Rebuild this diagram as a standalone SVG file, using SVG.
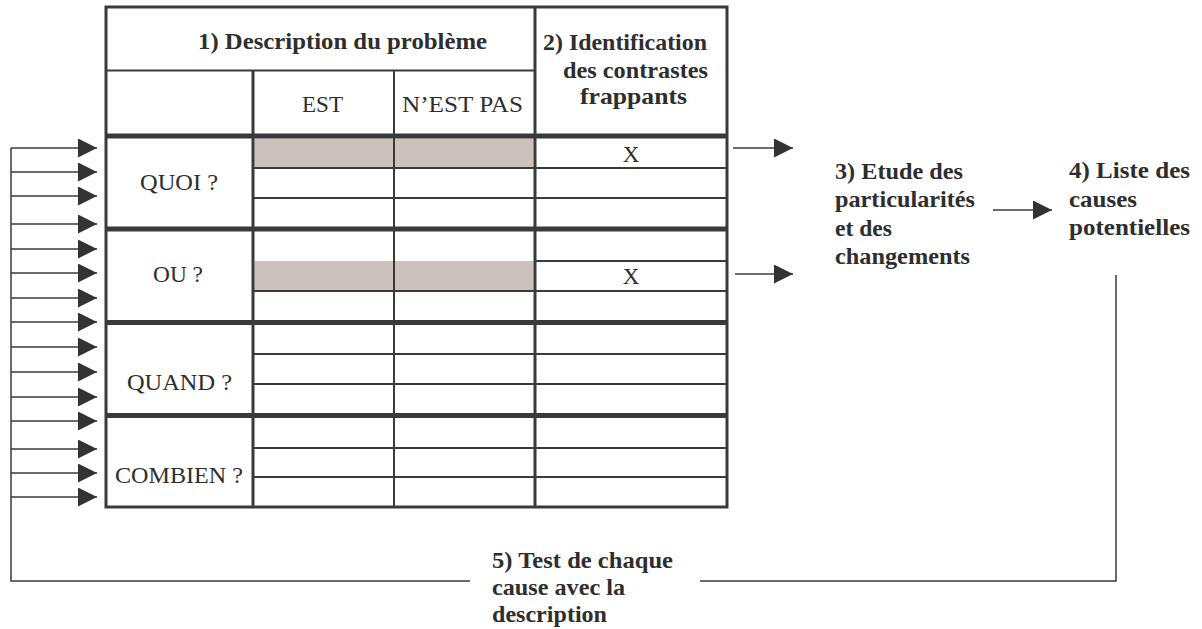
<svg xmlns="http://www.w3.org/2000/svg" width="1202" height="629" viewBox="0 0 1202 629">
<style>
.t{font-family:"Liberation Serif","Times New Roman",serif;font-size:23px;fill:#2e2e2e}
.b{font-weight:bold}
.ln{stroke:#3a3a3a;fill:none}
.thin{stroke-width:2}
.mid{stroke-width:3}
.thick{stroke-width:5}
.shade{fill:#cbc2be}
.conn{stroke:#3a3a3a;stroke-width:1.5;fill:none}
</style>
<defs>
<marker id="ah" markerUnits="userSpaceOnUse" markerWidth="20" markerHeight="20" refX="19" refY="9.5" orient="auto">
<path d="M0,0 L19,9.5 L0,19 z" fill="#333"/>
</marker>
</defs>
<rect width="1202" height="629" fill="#fff"/>

<g id="table">
<rect class="shade" x="254.5" y="138.5" width="279" height="28.5"/>
<rect class="shade" x="254.5" y="261" width="279" height="29"/>
<rect class="ln mid" x="106" y="7" width="621" height="500"/>
<line class="ln thin" x1="106" y1="70.5" x2="535" y2="70.5"/>
<line class="ln mid" x1="253" y1="70.5" x2="253" y2="507"/>
<line class="ln thin" x1="394" y1="70.5" x2="394" y2="507"/>
<line class="ln mid" x1="535" y1="7" x2="535" y2="507"/>
<line class="ln thick" x1="106" y1="136" x2="727" y2="136"/>
<line class="ln thick" x1="106" y1="229" x2="727" y2="229"/>
<line class="ln thick" x1="106" y1="322.5" x2="727" y2="322.5"/>
<line class="ln thick" x1="106" y1="415.5" x2="727" y2="415.5"/>
<line class="ln thin" x1="253" y1="168" x2="727" y2="168"/>
<line class="ln thin" x1="253" y1="198" x2="727" y2="198"/>
<line class="ln thin" x1="535" y1="261" x2="727" y2="261"/>
<line class="ln thin" x1="253" y1="291" x2="727" y2="291"/>
<line class="ln thin" x1="253" y1="354" x2="727" y2="354"/>
<line class="ln thin" x1="253" y1="384" x2="727" y2="384"/>
<line class="ln thin" x1="253" y1="448" x2="727" y2="448"/>
<line class="ln thin" x1="253" y1="477" x2="727" y2="477"/>
<text class="t b" x="198" y="49" textLength="289" lengthAdjust="spacingAndGlyphs">1) Description du problème</text>
<text class="t b" x="543" y="50" textLength="164" lengthAdjust="spacingAndGlyphs">2) Identification</text>
<text class="t b" x="563" y="78" textLength="145" lengthAdjust="spacingAndGlyphs">des contrastes</text>
<text class="t b" x="580" y="104" textLength="107" lengthAdjust="spacingAndGlyphs">frappants</text>
<text class="t" x="302" y="112" textLength="41" lengthAdjust="spacingAndGlyphs">EST</text>
<text class="t" x="402" y="112" textLength="121" lengthAdjust="spacingAndGlyphs">N’EST PAS</text>
<text class="t" x="140" y="190" textLength="78" lengthAdjust="spacingAndGlyphs">QUOI ?</text>
<text class="t" x="153" y="282" textLength="50" lengthAdjust="spacingAndGlyphs">OU ?</text>
<text class="t" x="127" y="390" textLength="105" lengthAdjust="spacingAndGlyphs">QUAND ?</text>
<text class="t" x="115" y="483" textLength="128" lengthAdjust="spacingAndGlyphs">COMBIEN ?</text>
<text class="t" x="631" y="162" text-anchor="middle">X</text>
<text class="t" x="631" y="284" text-anchor="middle">X</text>
</g>

<g id="step3">
<text class="t b" x="835" y="179" textLength="128" lengthAdjust="spacingAndGlyphs">3) Etude des</text>
<text class="t b" x="835" y="207" textLength="140" lengthAdjust="spacingAndGlyphs">particularités</text>
<text class="t b" x="835" y="236" textLength="57" lengthAdjust="spacingAndGlyphs">et des</text>
<text class="t b" x="835" y="264" textLength="135" lengthAdjust="spacingAndGlyphs">changements</text>
</g>

<g id="step4">
<text class="t b" x="1069" y="178" textLength="121" lengthAdjust="spacingAndGlyphs">4) Liste des</text>
<text class="t b" x="1069" y="207" textLength="68" lengthAdjust="spacingAndGlyphs">causes</text>
<text class="t b" x="1069" y="235" textLength="121" lengthAdjust="spacingAndGlyphs">potentielles</text>
</g>

<g id="step5">
<text class="t b" x="492" y="568" textLength="181" lengthAdjust="spacingAndGlyphs">5) Test de chaque</text>
<text class="t b" x="492" y="595" textLength="133" lengthAdjust="spacingAndGlyphs">cause avec la</text>
<text class="t b" x="492" y="622" textLength="115" lengthAdjust="spacingAndGlyphs">description</text>
</g>

<g id="connectors">
<path class="conn" d="M1116,275 V581 H700 M470,581 H11 V148"/>
<line class="conn" x1="11" y1="148" x2="97" y2="148" marker-end="url(#ah)"/>
<line class="conn" x1="11" y1="172" x2="97" y2="172" marker-end="url(#ah)"/>
<line class="conn" x1="11" y1="196" x2="97" y2="196" marker-end="url(#ah)"/>
<line class="conn" x1="11" y1="224" x2="97" y2="224" marker-end="url(#ah)"/>
<line class="conn" x1="11" y1="249" x2="97" y2="249" marker-end="url(#ah)"/>
<line class="conn" x1="11" y1="273" x2="97" y2="273" marker-end="url(#ah)"/>
<line class="conn" x1="11" y1="298" x2="97" y2="298" marker-end="url(#ah)"/>
<line class="conn" x1="11" y1="322" x2="97" y2="322" marker-end="url(#ah)"/>
<line class="conn" x1="11" y1="347" x2="97" y2="347" marker-end="url(#ah)"/>
<line class="conn" x1="11" y1="372" x2="97" y2="372" marker-end="url(#ah)"/>
<line class="conn" x1="11" y1="397" x2="97" y2="397" marker-end="url(#ah)"/>
<line class="conn" x1="11" y1="421" x2="97" y2="421" marker-end="url(#ah)"/>
<line class="conn" x1="11" y1="449" x2="97" y2="449" marker-end="url(#ah)"/>
<line class="conn" x1="11" y1="473" x2="97" y2="473" marker-end="url(#ah)"/>
<line class="conn" x1="11" y1="497" x2="97" y2="497" marker-end="url(#ah)"/>
<line class="conn" x1="733" y1="148" x2="793" y2="148" marker-end="url(#ah)"/>
<line class="conn" x1="735" y1="274" x2="793" y2="274" marker-end="url(#ah)"/>
<line class="conn" x1="993" y1="210" x2="1052" y2="210" marker-end="url(#ah)"/>
</g>
</svg>
